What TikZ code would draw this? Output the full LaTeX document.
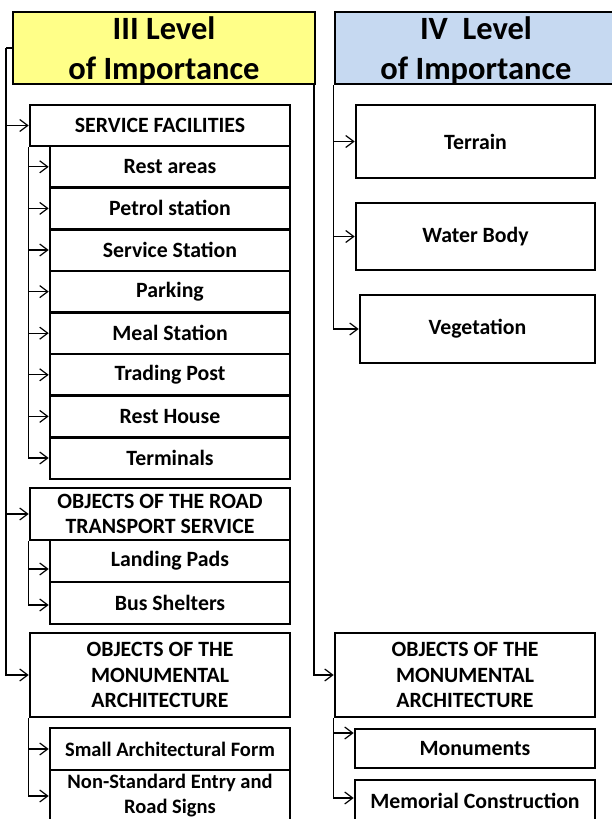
\documentclass[tikz,border=0pt]{standalone}
\usepackage{fontspec}
\setmainfont{Carlito}
\usetikzlibrary{arrows.meta}
\definecolor{hdryellow}{RGB}{255,255,136}
\definecolor{hdrblue}{RGB}{198,217,241}
\begin{document}
\begin{tikzpicture}[x=1pt,y=-1pt,
  box/.style={draw=black, line width=2.6pt, fill=white, inner sep=0pt, align=center,
    font=\fontsize{21.8}{25.5}\selectfont\bfseries},
  hdrbox/.style={draw=black, line width=2.6pt, inner sep=0pt},
  hdrtext/.style={inner sep=0pt, align=center, font=\fontsize{32.5}{40}\selectfont\bfseries},
  conn/.style={line width=1.2pt, draw=black},
  arr/.style={conn, -{Straight Barb[length=8pt,width=12pt]}}]
\useasboundingbox (0,0) rectangle (612,819);
\clip (0,0) rectangle (612,819);
% headers
\node[hdrbox, fill=hdryellow, minimum width=302pt, minimum height=72pt] (h3) at (164,48) {};
\node[hdrtext] (h3t) at (164,50.5) {III Level\\of Importance};
\node[hdrbox, fill=hdrblue, minimum width=282pt, minimum height=72pt] (h4) at (476,48) {};
\node[hdrtext] (h4t) at (476,50.5) {IV\ \ Level\\of Importance};
% III level column
\node[box, minimum width=260pt, minimum height=41pt] (sf) at (160,125.5) {SERVICE FACILITIES};
\node[box, minimum width=240pt, minimum height=41.6pt] (rest) at (170,166.8) {Rest areas};
\node[box, minimum width=240pt, minimum height=41.6pt] (petrol) at (170,208.4) {Petrol station};
\node[box, minimum width=240pt, minimum height=41.6pt] (servst) at (170,250) {Service Station};
\node[box, minimum width=240pt, minimum height=41.6pt] (parking) at (170,291.6) {Parking};
\node[box, minimum width=240pt, minimum height=41.6pt] (meal) at (170,333.2) {Meal Station};
\node[box, minimum width=240pt, minimum height=41.6pt] (trading) at (170,374.8) {Trading Post};
\node[box, minimum width=240pt, minimum height=41.6pt] (resthouse) at (170,416.4) {Rest House};
\node[box, minimum width=240pt, minimum height=41.6pt] (terminals) at (170,458) {Terminals};
\node[box, minimum width=260pt, minimum height=52pt] (road) at (160,514) {OBJECTS OF THE ROAD\\TRANSPORT SERVICE};
\node[box, minimum width=240pt, minimum height=42pt] (landing) at (170,561) {Landing Pads};
\node[box, minimum width=240pt, minimum height=42pt] (bus) at (170,603) {Bus Shelters};
\node[box, minimum width=260pt, minimum height=84pt] (mon3) at (160,675) {OBJECTS OF THE\\MONUMENTAL\\ARCHITECTURE};
\node[box, minimum width=240pt, minimum height=42pt, font=\fontsize{20.5}{25}\selectfont\bfseries] (small) at (170,749) {Small Architectural Form};
\node[box, minimum width=240pt, minimum height=52pt, font=\fontsize{20.5}{25}\selectfont\bfseries] (nonstd) at (170,796) {Non-Standard Entry and\\Road Signs};
% IV level column
\node[box, minimum width=239pt, minimum height=73pt] (terrain) at (475.5,141.5) {Terrain};
\node[box, minimum width=239pt, minimum height=67pt] (water) at (475.5,236.5) {Water Body};
\node[box, minimum width=235pt, minimum height=68pt] (veg) at (477.5,329) {Vegetation};
\node[box, minimum width=260pt, minimum height=84pt] (mon4) at (465,675) {OBJECTS OF THE\\MONUMENTAL\\ARCHITECTURE};
\node[box, minimum width=240pt, minimum height=39pt] (monuments) at (475,748.5) {Monuments};
\node[box, minimum width=240pt, minimum height=42pt] (memorial) at (475,801) {Memorial Construction};
% trunks
\coordinate (tl) at (6,48);
\coordinate (tr) at (314,84);
\draw[conn] (h3.west) -- (tl);
\draw[arr] (tl) |- (mon3.west);
\draw[arr] (tl |- sf.west) -- (sf.west);
\draw[arr] (tl |- road.west) -- (road.west);
\draw[arr] (tr) |- (mon4.west);
% service facilities
\draw[arr] (sf.south west) |- (terminals.west);
\foreach \n in {rest,petrol,servst,parking,meal,trading,resthouse}
  \draw[arr] (sf.south west |- \n.west) -- (\n.west);
% road transport
\draw[arr] (road.south west) |- ([yshift=-8pt]landing.west);
\draw[arr] (road.south west) |- ([yshift=-2pt]bus.west);
% monumental III
\draw[arr] (mon3.south west) |- (small.west);
\draw[arr] (mon3.south west) |- (nonstd.west);
% IV level
\draw[arr] (h4.south west) |- (veg.west);
\draw[arr] (h4.south west |- terrain.west) -- (terrain.west);
\draw[arr] (h4.south west |- water.west) -- (water.west);
\draw[arr] (mon4.south west) |- ([yshift=15.5pt]monuments.west);
\draw[arr] (mon4.south west) |- ([yshift=3pt]memorial.west);
\end{tikzpicture}
\end{document}
